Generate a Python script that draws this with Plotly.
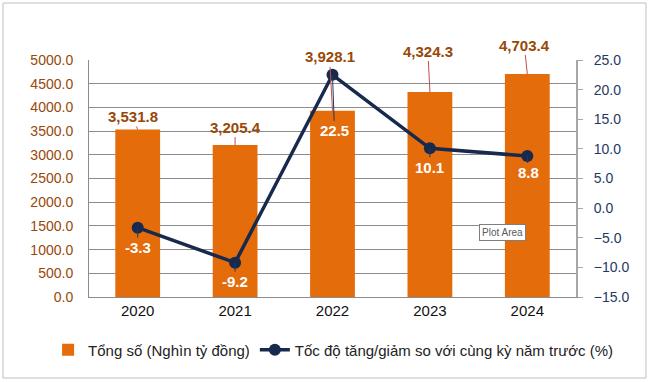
import plotly.graph_objects as go

years = ["2020", "2021", "2022", "2023", "2024"]
total = [3531.8, 3205.4, 3928.1, 4324.3, 4703.4]
growth = [-3.3, -9.2, 22.5, 10.1, 8.8]

name_total = "Tổng số (Nghìn tỷ đồng)"
name_growth = "Tốc độ tăng/giảm so với cùng kỳ năm trước (%)"

xs = list(range(len(years)))

# label offsets in pixels (style only)
bar_lbl_ax = [-5, 0, -3, -2, -3]
bar_lbl_ay = [-13, -18, -54, -41, -29]
line_lbl_ax = [0, 0, 2, 0, 1]
line_lbl_ay = [20, 19, 56, 19, 17]

BAR_C = "#E46C0A"
LINE_C = "#172A4E"
BROWN = "#984807"
NAVY = "#1F3864"
GRID = "#8C8C8C"
FONT = "Liberation Sans, Arial, sans-serif"

fig = go.Figure()
fig.add_trace(go.Bar(x=xs, y=total, name=name_total, marker_color=BAR_C,
                     marker_line_width=0, width=0.46, yaxis="y"))
fig.add_trace(go.Scatter(x=xs, y=growth, name=name_growth, mode="lines+markers",
                         line=dict(color=LINE_C, width=3.5),
                         marker=dict(color=LINE_C, size=12), yaxis="y2"))

ann = []
for i, v in enumerate(total):
    ann.append(dict(x=xs[i], y=v, xref="x", yref="y", text=f"<b>{v:,.1f}</b>",
                    showarrow=True, arrowhead=0, arrowwidth=1, arrowcolor="#C0504D",
                    ax=bar_lbl_ax[i], ay=bar_lbl_ay[i],
                    font=dict(family=FONT, size=15, color=BROWN)))
for i, v in enumerate(growth):
    ann.append(dict(x=xs[i], y=v, xref="x", yref="y2", text=f"<b>{v:.1f}</b>",
                    showarrow=True, arrowhead=0, arrowwidth=1, arrowcolor=NAVY,
                    ax=line_lbl_ax[i], ay=line_lbl_ay[i],
                    font=dict(family=FONT, size=15, color="white")))
ann.append(dict(x=0.897, y=0.236, xref="paper", yref="paper", text="Plot Area",
                showarrow=False, bgcolor="white", bordercolor="#7F7F7F", borderwidth=1,
                borderpad=2, font=dict(family=FONT, size=10, color="#595959")))

fig.update_layout(
    template="none",
    width=650, height=382,
    margin=dict(l=89, r=74, t=60, b=85, autoexpand=False),
    paper_bgcolor="white", plot_bgcolor="white",
    font=dict(family=FONT, size=14, color="#222222"),
    showlegend=True,
    legend=dict(orientation="h", xref="paper", yref="paper",
                x=-0.084, xanchor="left", y=-0.2236, yanchor="middle",
                bgcolor="rgba(0,0,0,0)",
                font=dict(size=15, color="#222222"), tracegroupgap=0),
    xaxis=dict(range=[-0.5, len(years) - 0.5], tickvals=xs, ticktext=years,
               showline=True, linecolor=GRID, linewidth=1, zeroline=False, automargin=False,
               ticks="", tickfont=dict(size=15, color="#111111"), showgrid=False),
    yaxis=dict(range=[0, 5000], dtick=500, tickformat=".1f", showgrid=True, automargin=False,
               gridcolor=GRID, gridwidth=1, showline=True, linecolor=GRID, zeroline=False,
               tickfont=dict(size=14, color=BROWN), ticks="", ticklabelstandoff=12),
    yaxis2=dict(range=[-15, 25], dtick=5, tickformat=".1f", overlaying="y", side="right",
                showgrid=False, showline=True, linecolor="#A6A6A6", linewidth=2, automargin=False,
                ticks="outside", ticklen=5, tickcolor="#A6A6A6", zeroline=False,
                tickfont=dict(size=14, color=NAVY), ticklabelstandoff=8),
    annotations=ann,
    shapes=[dict(type="rect", xref="paper", yref="paper", x0=-0.1766, x1=1.1437,
                 y0=-0.3418, y1=1.2405, line=dict(color="#BFBFBF", width=1))],
)

fig.write_html("out.html", config={"displayModeBar": False},
               post_script="document.body.style.margin='0';")
